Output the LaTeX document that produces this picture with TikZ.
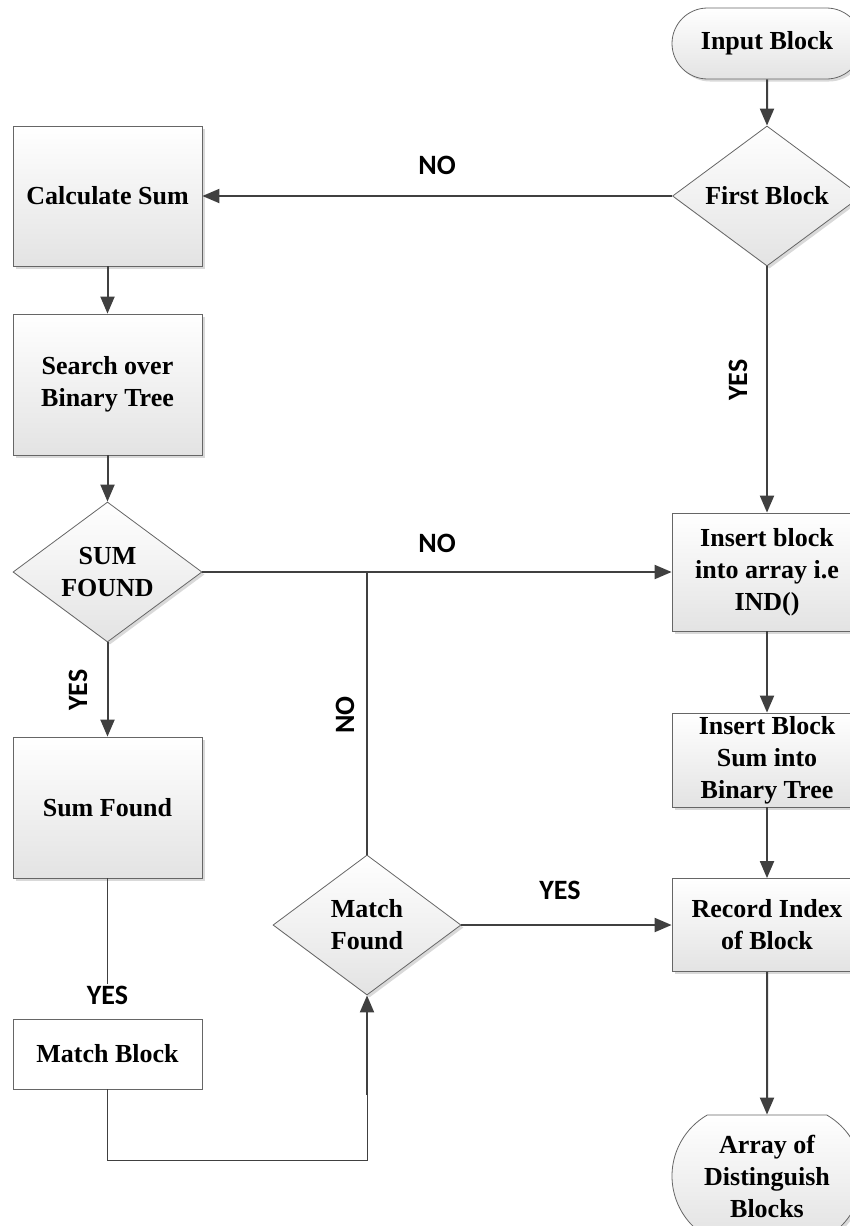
\documentclass[tikz,border=0pt]{standalone}
\usepackage{fontspec}
\setmainfont{Liberation Serif}
\newfontfamily\lblfont{Carlito}
\usetikzlibrary{shapes.geometric,shapes.misc,arrows.meta,shadows}

\tikzset{
  box/.style={draw=black!60, line width=0.8pt, minimum width=190pt, inner sep=0pt,
    align=center, font=\fontsize{26}{32}\selectfont\bfseries},
  stepbox/.style={box, top color=white, bottom color=black!11,
    drop shadow={shadow xshift=2.5pt, shadow yshift=-2.5pt, fill=black, opacity=0.15}},
  decide/.style={stepbox, diamond, minimum width=189pt, minimum height=140pt, aspect=1.35},
  term/.style={stepbox, rounded rectangle},
  arr/.style={draw=black!75, line width=2pt, -{Triangle[length=17pt,width=14pt]}},
  wire/.style={draw=black!75, line width=1pt},
  lbl/.style={font=\lblfont\fontsize{28}{32}\selectfont\bfseries, inner sep=2pt}
}

\begin{document}
\begin{tikzpicture}[x=1pt,y=-1pt]
\useasboundingbox (0,0) rectangle (850,1226);

\node[term, minimum height=71pt] (inblk) at (767,43.5) {Input Block};
\node[decide] (first) at (767,196) {First Block};
\node[stepbox, minimum width=189pt, minimum height=140pt] (calc) at (107.5,196) {Calculate Sum};
\node[stepbox, minimum width=189pt, minimum height=141pt] (search) at (107.5,384.5) {Search over\\Binary Tree};
\node[decide] (sumq) at (107.5,572) {SUM\\FOUND};
\node[stepbox, minimum width=189pt, minimum height=141pt] (sumfnd) at (107.5,807.5) {Sum Found};
\node[box, fill=white, minimum width=189pt, minimum height=70pt] (matchblk) at (107.5,1054) {Match Block};
\node[decide, minimum width=188pt] (matchq) at (367,925) {Match\\Found};
\node[stepbox, minimum height=118pt] (insarr) at (767,572) {Insert block\\into array i.e\\IND()};
\node[stepbox, minimum height=94pt] (instree) at (767,760) {Insert Block\\Sum into\\Binary Tree};
\node[stepbox, minimum height=93pt] (record) at (767,925) {Record Index\\of Block};
\node[term, rounded rectangle arc length=120, minimum height=122pt] (out) at (767,1176) {Array of\\Distinguish\\Blocks};

\node[lbl] (no1) at (437,165) {NO};
\node[lbl, rotate=90] (yes1) at (738,380) {YES};
\node[lbl] (no2) at (437,543) {NO};
\node[lbl, rotate=90] (yes2) at (78,690) {YES};
\node[lbl, rotate=90] (no3) at (345,715) {NO};
\node[lbl] (yes3) at (107.5,995) {YES};
\node[lbl] (yes4) at (560,890) {YES};

\foreach \a/\b in {inblk/first, first/calc, calc/search, search/sumq, sumq/sumfnd,
    first/insarr, sumq/insarr, insarr/instree, instree/record, record/out, matchq/record} {
  \draw[arr] (\a) -- (\b);
}

\coordinate (jn) at (367,572);
\draw[wire, line width=1.5pt] (matchq) -- (jn);
\draw[wire] (sumfnd) -- (yes3);

\coordinate (lp) at (367,1095);
\draw[wire] (matchblk.south) -- ++(0,71) -| (lp);
\draw[arr] (lp) -- (matchq);

\end{tikzpicture}
\end{document}
